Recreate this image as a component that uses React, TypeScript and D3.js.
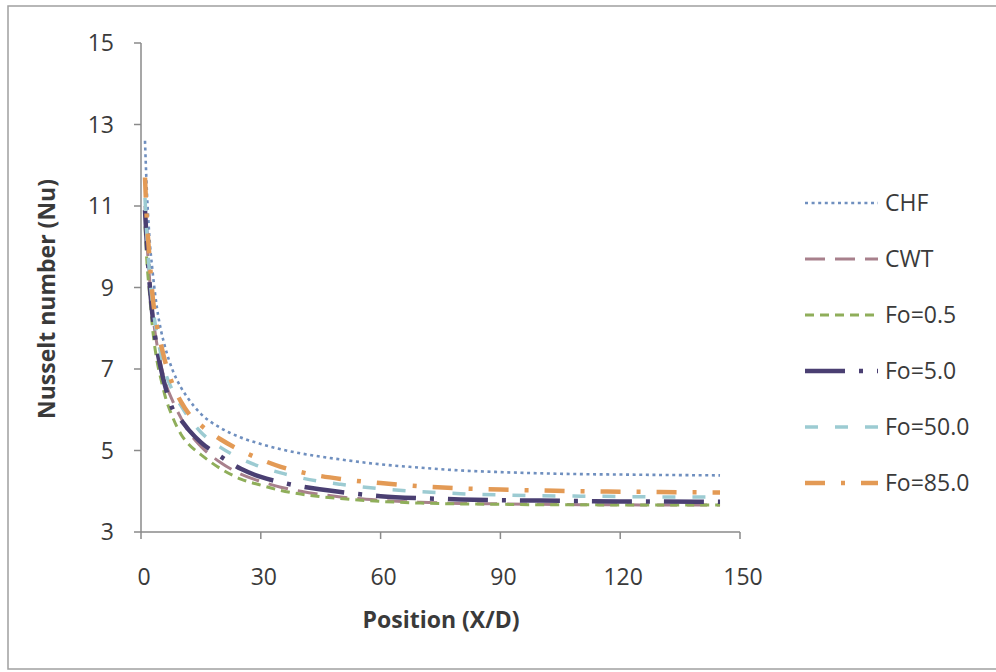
import React from "react";
import * as d3 from "d3";

const xs = [1, 1.5, 2, 3, 4, 5, 6, 8, 10, 12, 15, 20, 25, 30, 35, 40, 50, 60, 70, 80, 90, 100, 110, 120, 130, 145];

const chf = [12.6, 11.3, 10.4, 9.3, 8.5, 7.95, 7.55, 6.95, 6.55, 6.25, 5.9, 5.55, 5.32, 5.16, 5.03, 4.93, 4.78, 4.66, 4.58, 4.51, 4.47, 4.44, 4.42, 4.41, 4.4, 4.39];
const cwt = [11.0, 10.1, 9.4, 8.3, 7.6, 7.1, 6.7, 6.2, 5.8, 5.45, 5.1, 4.7, 4.42, 4.24, 4.1, 4.0, 3.86, 3.78, 3.73, 3.7, 3.69, 3.68, 3.67, 3.67, 3.66, 3.66];
const fo05 = [10.5, 9.6, 9.0, 7.9, 7.2, 6.75, 6.35, 5.8, 5.4, 5.15, 4.9, 4.55, 4.3, 4.15, 4.02, 3.93, 3.82, 3.75, 3.71, 3.69, 3.68, 3.67, 3.67, 3.66, 3.66, 3.66];
const fo5 = [10.9, 10.0, 9.3, 8.2, 7.5, 7.0, 6.6, 6.0, 5.75, 5.5, 5.2, 4.85, 4.55, 4.35, 4.22, 4.12, 3.98, 3.88, 3.83, 3.8, 3.78, 3.77, 3.76, 3.75, 3.75, 3.74];
const fo50 = [11.2, 10.2, 9.5, 8.5, 7.85, 7.35, 6.95, 6.45, 6.1, 5.8, 5.45, 5.07, 4.8, 4.6, 4.45, 4.33, 4.17, 4.06, 3.99, 3.94, 3.91, 3.89, 3.88, 3.87, 3.86, 3.86];
const fo85 = [11.7, 10.6, 9.9, 8.7, 8.05, 7.6, 7.2, 6.6, 6.2, 5.9, 5.62, 5.27, 5.0, 4.78, 4.6, 4.47, 4.3, 4.2, 4.12, 4.07, 4.04, 4.02, 4.0, 3.99, 3.98, 3.97];

const seriesNames = ["CHF", "CWT", "Fo=0.5", "Fo=5.0", "Fo=50.0", "Fo=85.0"];
const seriesValues = [chf, cwt, fo05, fo5, fo50, fo85];

const xTicks = [0, 30, 60, 90, 120, 150];
const yTicks = [3, 5, 7, 9, 11, 13, 15];

const styles = [
  { color: "#6f8fbf", width: 2.6, dash: "3 3.6" },
  { color: "#a8808c", width: 3, dash: "20 10" },
  { color: "#8fae5a", width: 3, dash: "9 6" },
  { color: "#4a3f72", width: 4.5, dash: "40 14 4 14" },
  { color: "#9ccbd2", width: 3.5, dash: "13 17" },
  { color: "#e39a55", width: 4.5, dash: "20 16 4 16" },
];

const FONT = "'Open Sans', 'DejaVu Sans', sans-serif";
const TEXT = "#3a3a3a";

export default function App() {
  const W = 996, H = 672;
  const x = d3.scaleLinear().domain([0, 150]).range([141, 740]);
  const y = d3.scaleLinear().domain([3, 15]).range([532, 43]);
  const line = d3
    .line<[number, number]>()
    .x((d) => x(d[0]))
    .y((d) => y(d[1]))
    .curve(d3.curveMonotoneX);

  const legendY0 = 203;
  const legendStep = 56;

  return (
    <svg
      width={W}
      height={H}
      style={{ position: "absolute", left: 0, top: 0, background: "#fff" }}
      fontFamily={FONT}
    >
      <rect x={0} y={0} width={W} height={H} fill="#fff" />
      <rect x={8} y={6} width={W + 20} height={663} fill="none" stroke="#a0a0a0" strokeWidth={1.5} />

      {/* axes */}
      <line x1={x(0)} x2={x(0)} y1={y(15)} y2={y(3)} stroke="#8a8a8a" strokeWidth={1.5} />
      <line x1={x(0)} x2={x(150)} y1={y(3)} y2={y(3)} stroke="#8a8a8a" strokeWidth={1.5} />
      {yTicks.map((t) => (
        <g key={"y" + t}>
          <line x1={x(0) - 7} x2={x(0)} y1={y(t)} y2={y(t)} stroke="#8a8a8a" strokeWidth={1.5} />
          <text x={114} y={y(t)} dy="0.35em" textAnchor="end" fontSize={23} fill={TEXT}>
            {t}
          </text>
        </g>
      ))}
      {xTicks.map((t) => (
        <g key={"x" + t}>
          <line x1={x(t)} x2={x(t)} y1={y(3)} y2={y(3) + 7} stroke="#8a8a8a" strokeWidth={1.5} />
          <text x={x(t) + 3} y={577} dy="0.35em" textAnchor="middle" fontSize={23} fill={TEXT}>
            {t}
          </text>
        </g>
      ))}

      <text x={441} y={620} dy="0.35em" textAnchor="middle" fontSize={23} fontWeight="bold" fill={TEXT}>
        Position (X/D)
      </text>
      <text
        transform={`translate(47, 299) rotate(-90)`}
        dy="0.35em"
        textAnchor="middle"
        fontSize={23}
        fontWeight="bold"
        fill={TEXT}
      >
        Nusselt number (Nu)
      </text>

      {/* series */}
      {seriesValues.map((vals, i) => {
        const pts = xs.map((xv, j) => [xv, vals[j]] as [number, number]);
        return (
          <path
            key={seriesNames[i]}
            d={line(pts) || ""}
            fill="none"
            stroke={styles[i].color}
            strokeWidth={styles[i].width}
            strokeDasharray={styles[i].dash}
          />
        );
      })}

      {/* legend */}
      {seriesNames.map((name, i) => {
        const ly = legendY0 + i * legendStep;
        return (
          <g key={"leg" + name}>
            <line
              x1={805}
              x2={878}
              y1={ly}
              y2={ly}
              stroke={styles[i].color}
              strokeWidth={styles[i].width}
              strokeDasharray={styles[i].dash}
            />
            <text x={885} y={ly} dy="0.35em" fontSize={23} fill={TEXT}>
              {name}
            </text>
          </g>
        );
      })}
    </svg>
  );
}
